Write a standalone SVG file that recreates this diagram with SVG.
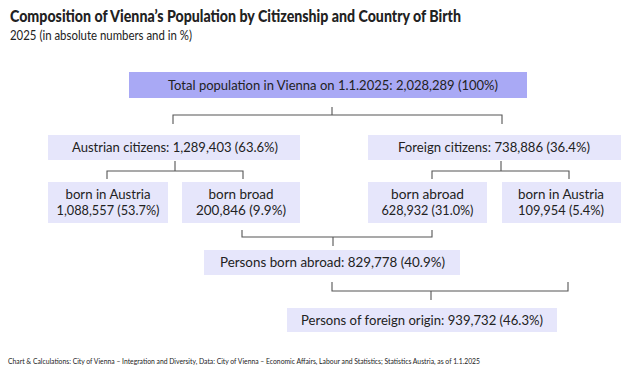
<svg xmlns="http://www.w3.org/2000/svg" width="640" height="374" viewBox="0 0 640 374">
<style>
text{font-family:Lato,"Open Sans","Liberation Sans",sans-serif;fill:#222;}
.t{font-size:14px;text-anchor:middle;}
.box{fill:#e6e6fb;}
.main{fill:#a9a9f5;}
.con path{fill:none;stroke:#555;stroke-width:1.1;}
</style>
<rect width="640" height="374" fill="#fff"/>
<text x="10" y="22" font-size="17" font-weight="900" textLength="451" lengthAdjust="spacingAndGlyphs">Composition of Vienna’s Population by Citizenship and Country of Birth</text>
<text x="10" y="40" font-size="13.5" textLength="182" lengthAdjust="spacingAndGlyphs">2025 (in absolute numbers and in %)</text>
<g class="con">
<path d="M332,107V115M173,124V115H502V124"/>
<path d="M175,161V171M107,179V171H243V179"/>
<path d="M501,161V171M432,179V171H569V179"/>
<path d="M242,230V237H432V230M333,237V246"/>
<path d="M332,282V291H568V282M431,291V300"/>
</g>
<g id="total"><rect class="main" x="129" y="72" width="398" height="26"/><text class="t" x="333" y="90" textLength="330" lengthAdjust="spacingAndGlyphs">Total population in Vienna on 1.1.2025: 2,028,289 (100%)</text></g>
<g id="austrian"><rect class="box" x="48" y="135" width="252" height="25"/><text class="t" x="175" y="152" textLength="206" lengthAdjust="spacingAndGlyphs">Austrian citizens: 1,289,403 (63.6%)</text></g>
<g id="foreign"><rect class="box" x="368" y="135" width="253" height="25"/><text class="t" x="494" y="152" textLength="192" lengthAdjust="spacingAndGlyphs">Foreign citizens: 738,886 (36.4%)</text></g>
<g id="aut-born-austria"><rect class="box" x="48" y="182" width="120" height="41"/><text class="t" x="108" y="199" textLength="85" lengthAdjust="spacingAndGlyphs">born in Austria</text><text class="t" x="108" y="215" textLength="103" lengthAdjust="spacingAndGlyphs">1,088,557 (53.7%)</text></g>
<g id="aut-born-abroad"><rect class="box" x="182" y="182" width="118" height="41"/><text class="t" x="241" y="199" textLength="65" lengthAdjust="spacingAndGlyphs">born broad</text><text class="t" x="241" y="215" textLength="90" lengthAdjust="spacingAndGlyphs">200,846 (9.9%)</text></g>
<g id="for-born-abroad"><rect class="box" x="368" y="182" width="119" height="41"/><text class="t" x="427.5" y="199" textLength="73" lengthAdjust="spacingAndGlyphs">born abroad</text><text class="t" x="427.5" y="215" textLength="92" lengthAdjust="spacingAndGlyphs">628,932 (31.0%)</text></g>
<g id="for-born-austria"><rect class="box" x="502" y="182" width="119" height="41"/><text class="t" x="561" y="199" textLength="86" lengthAdjust="spacingAndGlyphs">born in Austria</text><text class="t" x="561" y="215" textLength="86" lengthAdjust="spacingAndGlyphs">109,954 (5.4%)</text></g>
<g id="persons-born-abroad"><rect class="box" x="204" y="250" width="256" height="25"/><text class="t" x="332.5" y="267" textLength="225" lengthAdjust="spacingAndGlyphs">Persons born abroad: 829,778 (40.9%)</text></g>
<g id="foreign-origin"><rect class="box" x="287" y="308" width="270" height="24"/><text class="t" x="422" y="325" textLength="242" lengthAdjust="spacingAndGlyphs">Persons of foreign origin: 939,732 (46.3%)</text></g>
<text x="8" y="364" font-size="8" textLength="472" lengthAdjust="spacingAndGlyphs">Chart &amp; Calculations: City of Vienna – Integration and Diversity, Data: City of Vienna – Economic Affairs, Labour and Statistics; Statistics Austria, as of 1.1.2025</text>
</svg>
